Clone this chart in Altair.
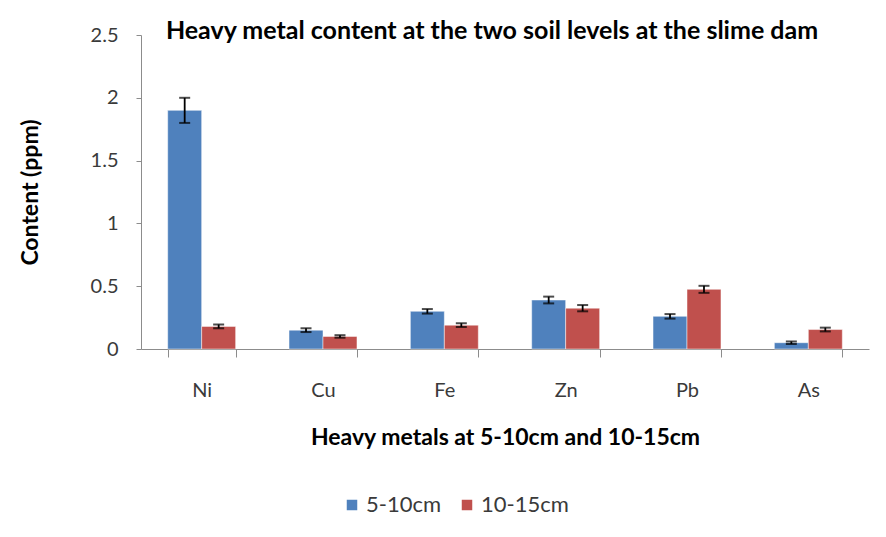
import altair as alt
import pandas as pd

metals = ["Ni", "Cu", "Fe", "Zn", "Pb", "As"]
depths = ["5-10cm", "10-15cm"]
vals_5_10 = [1.90, 0.15, 0.30, 0.39, 0.26, 0.05]
vals_10_15 = [0.18, 0.10, 0.19, 0.325, 0.475, 0.155]
err_5_10 = [0.10, 0.015, 0.018, 0.027, 0.018, 0.01]
err_10_15 = [0.015, 0.01, 0.015, 0.025, 0.028, 0.015]

rows = []
for i, m in enumerate(metals):
    for d, v, e in ((depths[0], vals_5_10[i], err_5_10[i]), (depths[1], vals_10_15[i], err_10_15[i])):
        rows.append({"metal": m, "depth": d, "value": v, "lo": v - e, "hi": v + e})
df = pd.DataFrame(rows)

font = "Lato"
x_enc = alt.X("metal:N", sort=metals,
              scale=alt.Scale(paddingInner=0.44, paddingOuter=0.22),
              axis=alt.Axis(title="Heavy metals at 5-10cm and 10-15cm", labelAngle=0,
                            labelPadding=23, tickBand="extent", tickSize=8,
                            titlePadding=26))
xo = alt.XOffset("depth:N", sort=depths, scale=alt.Scale(paddingInner=0, paddingOuter=0))
color = alt.Color("depth:N", sort=depths,
                  scale=alt.Scale(domain=depths, range=["#4F81BD", "#C0504D"]),
                  legend=alt.Legend(title=None, orient="none", direction="horizontal",
                                    legendX=200, legendY=459,
                                    symbolType="square", symbolSize=144,
                                    labelFontSize=22, columnPadding=14, labelOffset=3))

bars = alt.Chart(df).mark_bar(strokeWidth=0.8, strokeOpacity=0.6, stroke="#ffffff").encode(
    x=x_enc, xOffset=xo, color=color,
    y=alt.Y("value:Q", scale=alt.Scale(domain=[0, 2.5], nice=False),
            axis=alt.Axis(title="Content (ppm)", values=[0, 0.5, 1, 1.5, 2, 2.5],
                          format="~g", grid=False, tickSize=5, labelPadding=18,
                          titlePadding=48)),
)
rules = alt.Chart(df).mark_rule(color="black", strokeWidth=1.8).encode(
    x=x_enc, xOffset=xo, y="lo:Q", y2="hi:Q")
caps_lo = alt.Chart(df).mark_tick(color="black", thickness=2, size=11).encode(
    x=x_enc, xOffset=xo, y="lo:Q")
caps_hi = alt.Chart(df).mark_tick(color="black", thickness=2, size=11).encode(
    x=x_enc, xOffset=xo, y="hi:Q")

chart = alt.layer(bars, rules, caps_lo, caps_hi).properties(
    width=728, height=314,
    title=alt.Title("Heavy metal content at the two soil levels at the slime dam",
                    fontSize=25, font=font, fontWeight="bold", color="#000000",
                    offset=-19, dx=-13),
    autosize=alt.AutoSizeParams(type="none"),
    padding={"left": 133, "top": 27, "right": 9, "bottom": 180},
).configure_view(stroke=None).configure_axis(
    domainColor="#8c8c8c", tickColor="#8c8c8c", labelFont=font, titleFont=font,
    labelFontSize=20, labelColor="#3a3a3a", titleFontSize=23, titleColor="#000000",
    titleFontWeight="bold",
).configure_legend(labelFont=font, labelColor="#3a3a3a")

chart.save("out.html", embed_options={"renderer": "svg", "actions": False})
